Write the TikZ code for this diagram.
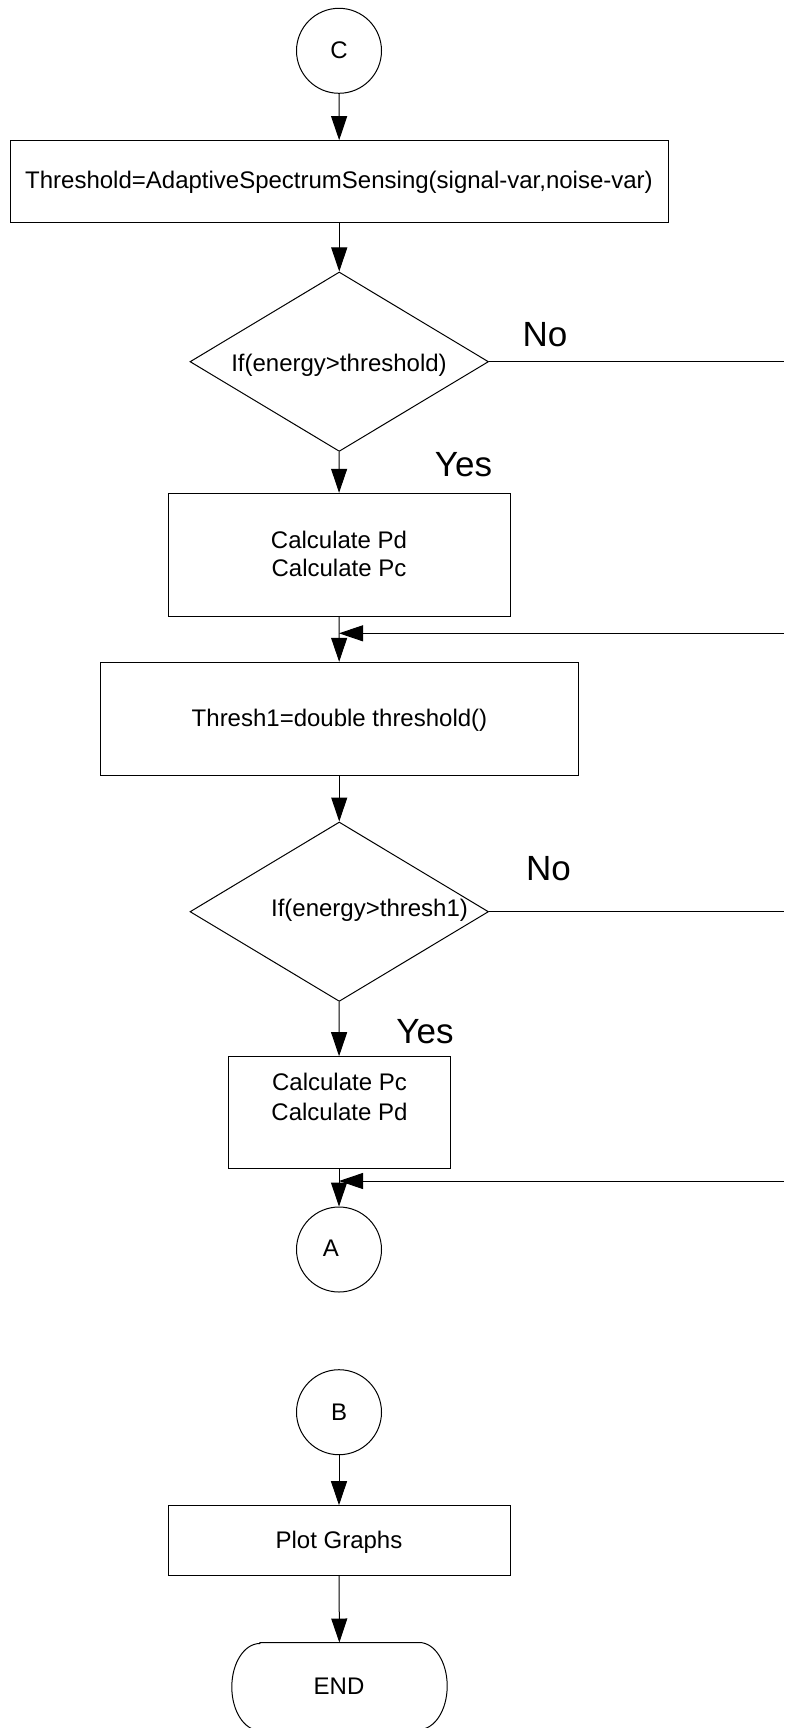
\documentclass[tikz,border=0pt]{standalone}
\usepackage{fontspec}
\setmainfont{Liberation Sans}
\usetikzlibrary{arrows.meta,shapes.geometric}

\begin{document}
\begin{tikzpicture}[
  x=1pt, y=-1pt,
  line width=1pt,
  txt/.style={inner sep=0pt, anchor=base, font=\fontsize{24}{28}\selectfont},
  bigtxt/.style={inner sep=0pt, anchor=base, font=\fontsize{35}{40}\selectfont},
  procbox/.style={draw, rectangle, inner sep=0pt},
  decision/.style={draw, diamond, inner sep=0pt, minimum width=298.5pt, minimum height=179.4pt},
  connector/.style={draw, circle, inner sep=0pt, minimum size=85pt},
  flow/.style={-{Triangle[length=24pt,width=16pt]}},
  plain/.style={-},
]
\useasboundingbox (0,0) rectangle (784,1728);

% ---- shapes ----
\node[connector] (cC) at (339,50.8) {};
\node[procbox, minimum width=658.5pt, minimum height=81.6pt] (box1) at (339.25,181.5) {};
\node[decision] (d1) at (339.25,361.7) {};
\node[procbox, minimum width=342pt, minimum height=122.7pt] (box2) at (339,554.65) {};
\node[procbox, minimum width=478.5pt, minimum height=112.7pt] (box3) at (339.25,718.65) {};
\node[decision] (d2) at (339.25,911.7) {};
\node[procbox, minimum width=222pt, minimum height=111.6pt] (box4) at (339,1112.5) {};
\node[connector] (cA) at (339,1249.5) {};
\node[connector] (cB) at (339,1412.2) {};
\node[procbox, minimum width=342pt, minimum height=69.3pt] (plot) at (339,1540.35) {};
% terminator: straight top/bottom with half-elliptic ends
\node[rectangle, inner sep=0pt, minimum width=214.4pt, minimum height=87pt] (endt) at (339.5,1686.5) {};
\draw ([xshift=28pt]endt.north west) -- ([xshift=-28pt]endt.north east)
  arc[start angle=90, end angle=-90, x radius=28pt, y radius=43.5pt]
  -- ([xshift=28pt]endt.south west)
  arc[start angle=270, end angle=90, x radius=28pt, y radius=43.5pt] -- cycle;

% ---- texts ----
\node[txt] (tC) at (339,58.3) {C};
\node[txt] (t1) at (339,188.9) {Threshold=AdaptiveSpectrumSensing(signal-var,noise-var)};
\node[txt] (td1) at (339,371.5) {If(energy>threshold)};
\node[bigtxt] (no1) at (545,346.7) {No};
\node[bigtxt] (yes1) at (463.5,476) {Yes};
\node[txt] (t2a) at (339,548.3) {Calculate Pd};
\node[txt] (t2b) at (339,576.7) {Calculate Pc};
\node[txt] (t3) at (339.5,726.7) {Thresh1=double threshold()};
\node[bigtxt] (no2) at (548.5,880) {No};
\node[txt] (td2) at (369.5,916.7) {If(energy>thresh1)};
\node[bigtxt] (yes2) at (425,1043.3) {Yes};
\node[txt] (t4a) at (339.5,1090.7) {Calculate Pc};
\node[txt] (t4b) at (339.5,1120) {Calculate Pd};
\node[txt] (tA) at (330.8,1256.7) {A};
\node[txt] (tB) at (339,1420) {B};
\node[txt] (tP) at (339,1548.3) {Plot Graphs};
\node[txt] (tE) at (339,1694) {END};

% ---- off-page ends of the "No" branches and returns ----
\coordinate (no1end) at (784,361.7);
\coordinate (no2end) at (784,911.7);
\coordinate (ret1) at (784,633.3);
\coordinate (ret2) at (784,1181);
\coordinate (join1) at (box2.south |- ret1);
\coordinate (join2) at (box4.south |- ret2);

% ---- connectors ----
\draw[flow] (cC) -- (box1);
\draw[flow] (box1) -- (d1);
\draw[flow] (d1) -- (box2);
\draw[flow] (box2) -- (box3);
\draw[flow] (box3) -- (d2);
\draw[flow] (d2) -- (box4);
\draw[flow] (box4) -- (cA);
\draw[flow] (cB) -- (plot);
\draw[flow] (plot) -- (endt);
\draw[plain] (d1.east) -- (no1end);
\draw[plain] (d2.east) -- (no2end);
\draw[flow] (ret1) -- (join1);
\draw[flow] (ret2) -- (join2);
\end{tikzpicture}
\end{document}
